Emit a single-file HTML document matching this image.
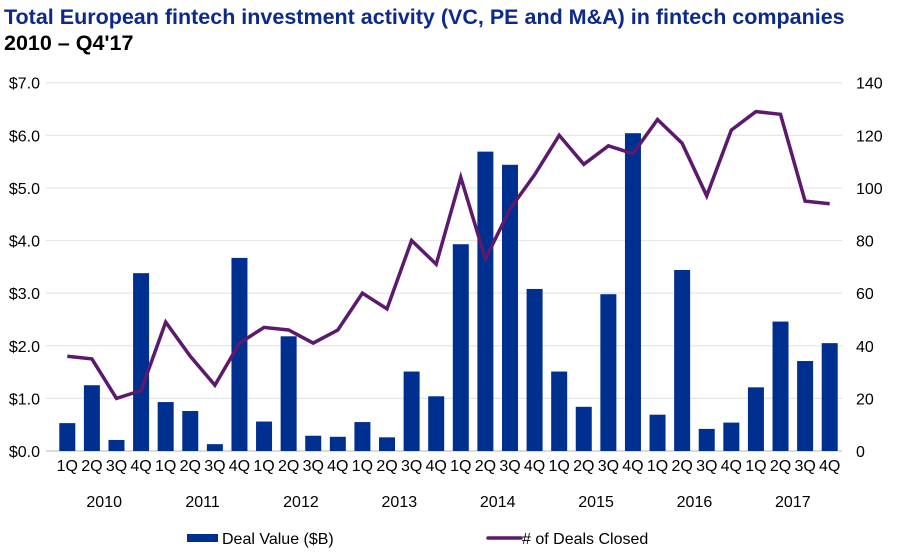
<!DOCTYPE html>
<html><head><meta charset="utf-8"><style>
body{margin:0;background:#fff;}
svg{display:block;font-family:"Liberation Sans",Arial,sans-serif;}
</style></head><body>
<svg id="chart" width="900" height="554" viewBox="0 0 900 554">
<text x="4" y="24" font-size="21.5" font-weight="bold" fill="#0d2a8a">Total European fintech investment activity (VC, PE and M&amp;A) in fintech companies</text>
<text x="4" y="50" font-size="21.5" font-weight="bold" fill="#000">2010 – Q4'17</text>
<g id="grid"></g><g id="bars"></g><g id="line"></g><g id="axes"></g>
<g>
<rect x="187" y="534" width="31" height="8" fill="#00308f"/>
<text x="222" y="544" font-size="16" fill="#000">Deal Value ($B)</text>
<line x1="488" y1="538" x2="521" y2="538" stroke="#5c1a6e" stroke-width="3.5" stroke-linecap="round"/>
<text x="522" y="544" font-size="16" fill="#000"># of Deals Closed</text>
</g>
</svg>
<script>
const quarters=["1Q","2Q","3Q","4Q"];
const years=["2010","2011","2012","2013","2014","2015","2016","2017"];
const dealValue=[0.53,1.25,0.21,3.38,0.93,0.76,0.13,3.67,0.56,2.18,0.29,0.27,0.55,0.26,1.51,1.04,3.93,5.69,5.44,3.08,1.51,0.84,2.98,6.04,0.69,3.44,0.42,0.54,1.21,2.46,1.71,2.05];
const dealCount=[36,35,20,23,49,36,25,41,47,46,41,46,60,54,80,71,104,73,92,105,120,109,116,113,126,117,97,122,129,128,95,94];
const leftTicks=["$0.0","$1.0","$2.0","$3.0","$4.0","$5.0","$6.0","$7.0"];
const rightTicks=["0","20","40","60","80","100","120","140"];
const NS="http://www.w3.org/2000/svg";
const X0=55,X1=842,Y0=451,Y1=82.7;
const n=dealValue.length,band=(X1-X0)/n;
const xc=i=>X0+band*(i+0.5);
const yL=v=>Y0-(v/7)*(Y0-Y1);
const yR=v=>Y0-(v/140)*(Y0-Y1);
function mk(tag,attrs,parent,text){const e=document.createElementNS(NS,tag);for(const k in attrs)e.setAttribute(k,attrs[k]);if(text!==undefined)e.textContent=text;document.getElementById(parent).appendChild(e);return e;}
leftTicks.forEach((t,i)=>{
  const y=yL(i);
  const g=mk("line",{x1:46,x2:842,y1:y,y2:y,stroke:i===0?"#c8c8c8":"#e6e6e6","stroke-width":1.2},"grid");
  
  
  const l=mk("text",{x:40,y:y+6,"font-size":16,"text-anchor":"end",fill:"#000"},"axes",t);
  
  
});
rightTicks.forEach((t,i)=>{
  const y=yR(+t);
  const l=mk("text",{x:856,y:y+6,"font-size":16,fill:"#000"},"axes",t);
  
  
});
dealValue.forEach((v,i)=>{
  const b=mk("rect",{x:xc(i)-8,y:yL(v),width:16,height:Y0-yL(v),fill:"#00308f"},"bars");
  
  
  const q=mk("text",{x:xc(i),y:471,"font-size":16,"text-anchor":"middle",fill:"#000"},"axes",quarters[i%4]);
  
  
});
years.forEach((yr,j)=>{
  const t=mk("text",{x:(xc(j*4)+xc(j*4+3))/2,y:507,"font-size":16,"text-anchor":"middle",fill:"#000"},"axes",yr);
  
  
});
const pts=dealCount.map((v,i)=>xc(i).toFixed(1)+","+yR(v).toFixed(1)).join(" ");
const pl=mk("polyline",{points:pts,fill:"none",stroke:"#5c1a6e","stroke-width":3.5,"stroke-linejoin":"miter"},"line");


</script>
</body></html>
